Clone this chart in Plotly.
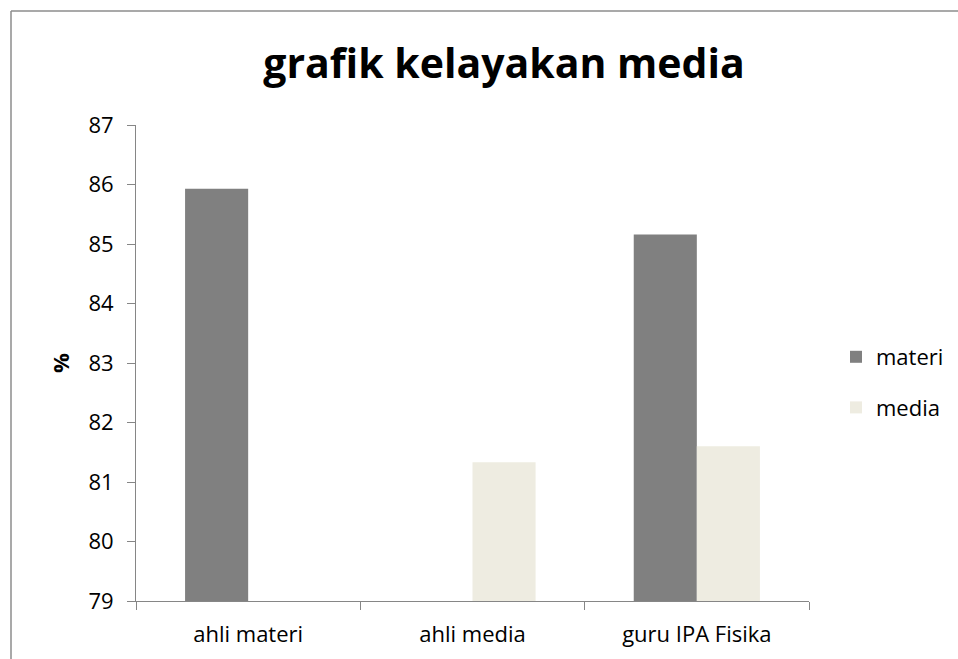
import plotly.graph_objects as go

categories = ["ahli materi", "ahli media", "guru IPA Fisika"]
materi = [85.93, None, 85.16]
media = [None, 81.33, 81.6]
series_names = ["materi", "media"]
y_ticks = [79, 80, 81, 82, 83, 84, 85, 86, 87]

W, H = 958, 659
L, R, T, B = 136, 809, 125, 601
FONT = "Open Sans"
FS = 22

fig = go.Figure()
fig.add_trace(go.Bar(x=categories, y=materi, name=series_names[0],
                     marker=dict(color="#808080", line=dict(width=0)),
                     legendgroup="a"))
fig.add_trace(go.Bar(x=categories, y=media, name=series_names[1],
                     marker=dict(color="#EEECE1", line=dict(width=0)),
                     legendgroup="b"))

def px(x):
    return (x - L) / (R - L)

def py(y):
    return (B - y) / (B - T)

fig.update_layout(
    width=W, height=H, autosize=False,
    margin=dict(l=L, r=W - R, t=T, b=H - B, pad=0, autoexpand=False),
    paper_bgcolor="white", plot_bgcolor="white",
    barmode="group", bargap=0.4375, bargroupgap=0,
    font=dict(family=FONT, size=FS, color="black"),
    title=dict(text="<b>grafik kelayakan media</b>", xref="paper", x=px(504),
               xanchor="center", y=1 - 64 / H, yanchor="middle",
               font=dict(family=FONT, size=41, color="black")),
    xaxis=dict(showline=True, linecolor="#868686", linewidth=1,
               ticks="outside", tickson="boundaries", ticklen=8,
               tickcolor="#868686", showgrid=False, ticklabelstandoff=14,
               tickfont=dict(size=FS)),
    yaxis=dict(range=[79, 87], tickvals=y_ticks, showline=True,
               linecolor="#868686", linewidth=1, ticks="outside",
               ticklen=8, tickcolor="#868686", showgrid=False,
               zeroline=False, tickfont=dict(size=FS), ticklabelstandoff=9,
               title=dict(text="<b>%</b>", font=dict(size=FS), standoff=12)),
    legend=dict(x=px(836), y=py(336), xanchor="left", yanchor="top",
                font=dict(size=FS), tracegroupgap=19,
                bgcolor="rgba(0,0,0,0)"),
    shapes=[
        dict(type="line", xref="paper", yref="paper",
             x0=px(11), x1=px(11), y0=py(11), y1=py(H),
             line=dict(color="#8c8c8c", width=1.5)),
        dict(type="line", xref="paper", yref="paper",
             x0=px(11), x1=px(W), y0=py(11), y1=py(11),
             line=dict(color="#8c8c8c", width=1.5)),
    ],
)

fig.write_html(
    "out.html",
    config={"displayModeBar": False, "responsive": False},
    post_script="document.body.style.margin='0';document.body.style.overflow='hidden';",
)
